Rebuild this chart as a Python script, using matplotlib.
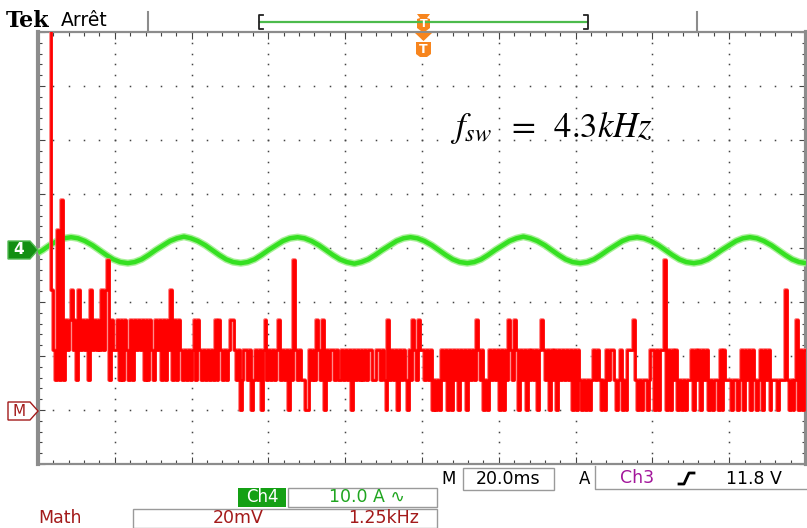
import numpy as np
import matplotlib
matplotlib.use('Agg')
import matplotlib.pyplot as plt
from matplotlib.patches import Polygon, Rectangle

plt.rcParams['mathtext.fontset'] = 'stix'
plt.rcParams['font.family'] = ['DejaVu Sans']

# ---------------- data (in screen divisions) ----------------
# Ch4 current (green), read at ~1/16 period steps
green_x = [0.00, 0.06, 0.15, 0.25, 0.34,
           0.43, 0.52, 0.61, 0.71, 0.80, 0.89, 0.98, 1.07,
           1.17, 1.26, 1.35, 1.44, 1.53, 1.63, 1.72, 1.81,
           1.90, 1.99, 2.08, 2.18, 2.27, 2.36, 2.45, 2.54,
           2.64, 2.73, 2.82, 2.91, 3.00, 3.10, 3.19, 3.28,
           3.38, 3.47, 3.56, 3.66, 3.75, 3.84, 3.93, 4.02,
           4.12, 4.21, 4.30, 4.39, 4.48, 4.58, 4.67, 4.76,
           4.85, 4.94, 5.03, 5.13, 5.22, 5.31, 5.40, 5.49,
           5.59, 5.68, 5.77, 5.86, 5.95, 6.05, 6.14, 6.23,
           6.32, 6.41, 6.50, 6.60, 6.69, 6.78, 6.87, 6.96,
           7.06, 7.15, 7.24, 7.33, 7.42, 7.52, 7.61, 7.70,
           7.80, 7.89, 7.98, 8.08, 8.17, 8.26, 8.35, 8.44,
           8.54, 8.63, 8.72, 8.81, 8.90, 9.00, 9.09, 9.18,
           9.27, 9.36, 9.45, 9.55, 9.64, 9.73, 9.82, 9.91, 10.00]
green_y = [3.91, 3.96, 4.05, 4.13, 4.18,
           4.20, 4.18, 4.13, 4.05, 3.96, 3.87, 3.79, 3.74,
           3.72, 3.74, 3.79, 3.87, 3.96, 4.05, 4.13, 4.18,
           4.21, 4.18, 4.13, 4.05, 3.96, 3.87, 3.79, 3.74,
           3.72, 3.74, 3.79, 3.87, 3.96, 4.05, 4.13, 4.18,
           4.20, 4.18, 4.13, 4.05, 3.96, 3.87, 3.79, 3.74,
           3.71, 3.74, 3.79, 3.87, 3.96, 4.05, 4.13, 4.18,
           4.20, 4.18, 4.13, 4.05, 3.96, 3.87, 3.79, 3.74,
           3.72, 3.74, 3.79, 3.87, 3.96, 4.05, 4.13, 4.18,
           4.21, 4.18, 4.13, 4.05, 3.96, 3.87, 3.79, 3.74,
           3.72, 3.74, 3.79, 3.87, 3.96, 4.05, 4.13, 4.18,
           4.20, 4.18, 4.13, 4.05, 3.96, 3.87, 3.79, 3.74,
           3.72, 3.74, 3.79, 3.87, 3.96, 4.05, 4.13, 4.18,
           4.20, 4.18, 4.13, 4.05, 3.96, 3.87, 3.79, 3.74, 3.72]

# Math trace (red): one string per horizontal division, each char = level index
red_div0 = "      " "T4216171" "32342314" "23231423" "23242451" "32"
red_div1 = "2313132131" "3232" "31313" "21" "32313132" "4" "1313" "212121"
red_div2 = "23132" "1212121" "313" "212123" "3" "2120" "12212" "0" "12120" "231"
red_div3 = "21212" "3" "1212021" "5" "2121100212" "1321" "30" "2122121121"
red_div4 = "212021212121" "22112212103" "12120212102" "132132"
red_div5 = "21212" "01010" "212" "020212021202" "12" "13" "21201021212"
red_div6 = "020" "2" "13213" "2021202121202" "3" "2120212021212120" "2"
red_div7 = "02" "10101012121010212" "2101" "2" "010" "22231" "01011012"
red_div8 = "20202" "25" "0202120" "101011" "202" "1202120" "10110" "2021" "1"
red_div9 = "101101" "2021202" "1012" "021201" "110111" "4" "10101" "3" "0202"
red_divs = [red_div0, red_div1, red_div2, red_div3, red_div4,
            red_div5, red_div6, red_div7, red_div8, red_div9]
red_level_values = {'0': 0, '1': 1, '2': 2, '3': 3, '4': 4, '5': 5,
                    '6': 6, '7': 7, 'T': 13}
red_zero = 1.0      # M marker level (div)
red_step = 0.555    # div per level

# ---------------- figure ----------------
W, H = 807, 528
fig = plt.figure(figsize=(W / 100, H / 100), dpi=100)
fig.patch.set_facecolor('white')

X0, X1, Y0, Y1 = 38, 806, 32, 464
ax = fig.add_axes([X0 / W, 1 - Y1 / H, (X1 - X0) / W, (Y1 - Y0) / H])
ax.set_xlim(0, 10)
ax.set_ylim(0, 8)
ax.set_facecolor('white')

# dotted graticule
for gx in range(1, 10):
    yy = np.arange(0, 8.001, 0.2)
    ax.plot(np.full_like(yy, gx), yy, ls='none', marker='s', ms=1.1,
            mec='none', mfc='#444444', zorder=1)
for gy in range(1, 8):
    xx = np.arange(0, 10.001, 0.2)
    ax.plot(xx, np.full_like(xx, gy), ls='none', marker='s', ms=1.1,
            mec='none', mfc='#444444', zorder=1)

ax.set_xticks(np.arange(0, 10.01, 1))
ax.set_xticks(np.arange(0, 10.01, 0.2), minor=True)
ax.set_yticks(np.arange(0, 8.01, 1))
ax.set_yticks(np.arange(0, 8.01, 0.2), minor=True)
ax.tick_params(which='both', direction='in', color='#444444', width=0.8,
               top=True, right=True, bottom=True, left=True,
               labelbottom=False, labelleft=False)
ax.tick_params(which='major', length=5)
ax.tick_params(which='minor', length=3)
for side, lw in (('left', 3.0), ('right', 3.0), ('top', 1.6), ('bottom', 1.6)):
    ax.spines[side].set_color('#8c8c8c')
    ax.spines[side].set_linewidth(lw)

# green trace
ax.plot(green_x, green_y, color='#a8f098', lw=5.2, solid_capstyle='butt',
        zorder=3)
ax.plot(green_x, green_y, color='#35e022', lw=3.2, solid_capstyle='butt',
        zorder=4)

# red trace
rx, ry = [], []
for d, s in enumerate(red_divs):
    n = len(s)
    for i, ch in enumerate(s):
        rx.append(d + i / n)
        if ch == ' ':
            ry.append(np.nan)
        else:
            ry.append(red_zero + red_step * red_level_values[ch])
rx.append(10.0)
ry.append(ry[-1])
ax.step(rx, ry, where='post', color='#ff7070', lw=2.6, zorder=5)
ax.step(rx, ry, where='post', color='#ff0000', lw=1.9, zorder=6)

# ---------------- overlay (screen chrome) ----------------
ov = fig.add_axes([0, 0, 1, 1], zorder=10)
ov.set_xlim(0, W)
ov.set_ylim(H, 0)
ov.axis('off')
ov.patch.set_alpha(0)

ov.text(6, 21, 'Tek', fontsize=16, fontweight='bold', family='DejaVu Serif',
        va='center', ha='left', color='black')
ov.text(61, 20, 'Arrêt', fontsize=13.5, va='center', ha='left', color='black')
ov.plot([148, 148], [12, 31], color='#8c8c8c', lw=1.5)
ov.plot([697, 697], [12, 31], color='#8c8c8c', lw=1.5)

# trigger/record bar
ov.plot([260, 587], [22, 22], color='#4cbb4c', lw=1.6)
ov.plot([263, 259, 259, 263], [15, 15, 29, 29], color='#222222', lw=1.3)
ov.plot([584, 588, 588, 584], [15, 15, 29, 29], color='#222222', lw=1.3)

orange = '#f7851e'
ov.add_patch(Polygon([(417, 14), (430, 14), (427, 18), (430, 19), (430, 28),
                      (426, 31), (421, 31), (417, 28), (417, 19), (420, 18)],
                     closed=True, fc=orange, ec='none'))
ov.text(423.5, 24, 'T', color='white', fontsize=8, fontweight='bold',
        ha='center', va='center')
ov.add_patch(Polygon([(415, 33), (432, 33), (423.5, 41)], closed=True,
                     fc=orange, ec='none'))
ov.add_patch(Polygon([(416, 42), (431, 42), (431, 54), (427, 57), (420, 57),
                      (416, 54)], closed=True, fc=orange, ec='none'))
ov.text(423.5, 49.5, 'T', color='white', fontsize=9, fontweight='bold',
        ha='center', va='center')

# formula
ov.text(450, 127, r'$f_{sw}\;\;=\;\;4.3kHz$', fontsize=25, va='center',
        ha='left', color='black')

# left channel markers
ov.add_patch(Polygon([(8, 241), (30, 241), (38, 250), (30, 259), (8, 259)],
                     closed=True, fc='#138f13', ec='#55bb55', lw=1))
ov.text(19, 250, '4', color='white', fontsize=11, fontweight='bold',
        ha='center', va='center')
ov.add_patch(Polygon([(8, 402), (30, 402), (38, 411), (30, 420), (8, 420)],
                     closed=True, fc='white', ec='#a31a1a', lw=1))
ov.text(19, 411, 'M', color='#a31a1a', fontsize=11, ha='center', va='center')

# bottom status
dred = '#a31a1a'
ov.text(449, 479, 'M', fontsize=12, ha='center', va='center', color='black')
ov.add_patch(Rectangle((463, 468), 91, 22, fill=False, ec='#9a9a9a', lw=1))
ov.text(508, 479, '20.0ms', fontsize=12.5, ha='center', va='center',
        color='black')
ov.text(585, 479, 'A', fontsize=12, ha='center', va='center', color='black')
ov.plot([595, 595, 807], [466, 489, 489], color='#9a9a9a', lw=1)
ov.text(637, 478, 'Ch3', fontsize=12.5, ha='center', va='center',
        color='#a3169b')
ov.plot([679, 684, 689, 694], [484, 484, 473, 473], color='black', lw=2)
ov.text(726, 479, '11.8 V', fontsize=12.5, ha='left', va='center',
        color='black')

ov.add_patch(Rectangle((238, 488), 48, 19, fc='#14a014', ec='none'))
ov.text(262, 497.5, 'Ch4', fontsize=12, ha='center', va='center',
        color='white')
ov.add_patch(Rectangle((288, 488), 149, 19, fill=False, ec='#9a9a9a', lw=1))
ov.text(367, 497.5, '10.0 A \u223f', fontsize=12.5, ha='center', va='center',
        color='#1fa51f')

ov.text(38, 518, 'Math', fontsize=12.5, ha='left', va='center', color=dred)
ov.add_patch(Rectangle((133, 509), 304, 19, fill=False, ec='#9a9a9a', lw=1))
ov.text(238, 518, '20mV', fontsize=12.5, ha='center', va='center', color=dred)
ov.text(384, 518, '1.25kHz', fontsize=12.5, ha='center', va='center',
        color=dred)

fig.savefig('out.png', dpi=100, facecolor='white')
